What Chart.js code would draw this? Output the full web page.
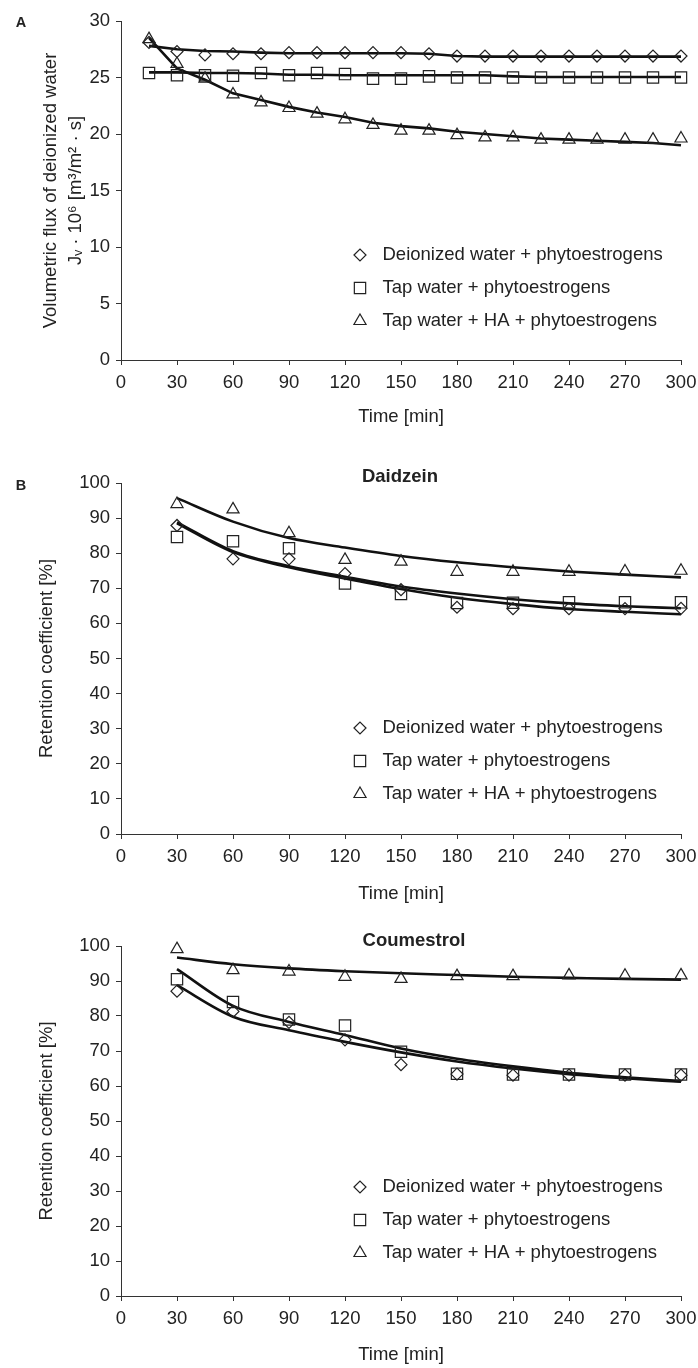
<!DOCTYPE html>
<html>
<head>
<meta charset="utf-8">
<script src="https://cdn.jsdelivr.net/npm/chart.js"></script>
<style>
  html, body { margin: 0; padding: 0; background: #fff; overflow: hidden; }
  body { width: 698px; height: 1368px; position: relative; }
  canvas { position: absolute; left: 0; }
</style>
</head>
<body>
<canvas id="chartA" width="698" height="432" style="top:0px"></canvas>
<canvas id="chartB" width="698" height="469" style="top:440px"></canvas>
<canvas id="chartC" width="698" height="460" style="top:910px"></canvas>
<script>
// --- panel A: volumetric flux, sampled every 15 min
const timeFlux = [15, 30, 45, 60, 75, 90, 105, 120, 135, 150, 165, 180, 195, 210, 225, 240, 255, 270, 285, 300];
const fluxDeionized = [28.1, 27.3, 27.0, 27.1, 27.1, 27.2, 27.2, 27.2, 27.2, 27.2, 27.1, 26.9, 26.9, 26.9, 26.9, 26.9, 26.9, 26.9, 26.9, 26.9];
const fluxTap       = [25.4, 25.2, 25.2, 25.15, 25.4, 25.2, 25.4, 25.3, 24.9, 24.9, 25.1, 25.0, 25.0, 25.0, 25.0, 25.0, 25.0, 25.0, 25.0, 25.0];
const fluxTapHA     = [28.4, 26.2, 24.9, 23.5, 22.8, 22.3, 21.8, 21.3, 20.8, 20.3, 20.3, 19.9, 19.7, 19.7, 19.5, 19.5, 19.5, 19.5, 19.5, 19.6];
const fitFluxDeionized = [27.8, 27.5, 27.35, 27.3, 27.2, 27.15, 27.15, 27.15, 27.15, 27.15, 27.1, 26.9, 26.85, 26.85, 26.85, 26.85, 26.85, 26.85, 26.85, 26.85];
const fitFluxTap       = [25.45, 25.45, 25.4, 25.4, 25.35, 25.25, 25.25, 25.2, 25.2, 25.2, 25.2, 25.2, 25.2, 25.1, 25.05, 25.05, 25.05, 25.05, 25.05, 25.05];
const fitFluxTapHA     = [28.5, 25.8, 24.8, 23.6, 23.0, 22.4, 21.9, 21.5, 21.0, 20.7, 20.5, 20.2, 20.0, 19.8, 19.6, 19.5, 19.4, 19.3, 19.2, 19.0];

// --- panels B: retention coefficient, sampled every 30 min
const timeRet = [30, 60, 90, 120, 150, 180, 210, 240, 270, 300];
const daidzeinDeionized = [87.9, 78.4, 78.4, 74.2, 69.6, 64.6, 64.2, 64.2, 64.2, 64.3];
const daidzeinTap       = [84.6, 83.4, 81.4, 71.4, 68.4, 65.8, 65.9, 66.0, 66.0, 66.0];
const daidzeinTapHA     = [94.0, 92.5, 85.7, 78.1, 77.6, 74.7, 74.7, 74.7, 74.8, 75.0];
const fitDaidzeinDeionized = [88.5, 80.3, 76.0, 72.8, 69.8, 67.3, 65.5, 64.1, 63.3, 62.6];
const fitDaidzeinTap       = [88.8, 80.6, 76.3, 73.3, 70.5, 68.5, 66.9, 65.7, 64.9, 64.3];
const fitDaidzeinTapHA     = [95.7, 89.0, 84.3, 81.6, 79.2, 77.4, 76.0, 74.8, 73.9, 73.1];

const coumestrolDeionized = [87.1, 81.3, 78.2, 73.2, 66.1, 63.4, 63.1, 63.1, 63.1, 63.1];
const coumestrolTap       = [90.5, 84.0, 79.0, 77.3, 69.8, 63.5, 63.3, 63.3, 63.3, 63.3];
const coumestrolTapHA     = [99.1, 93.1, 92.7, 91.2, 90.6, 91.4, 91.4, 91.6, 91.5, 91.6];
const fitCoumestrolDeionized = [88.8, 79.8, 75.9, 72.6, 69.6, 67.0, 65.0, 63.4, 62.2, 61.2];
const fitCoumestrolTap       = [93.4, 82.9, 78.3, 74.6, 70.7, 67.8, 65.6, 63.8, 62.5, 61.4];
const fitCoumestrolTapHA     = [96.7, 94.8, 93.6, 92.8, 92.2, 91.7, 91.2, 90.9, 90.6, 90.4];

const seriesLabels = ['Deionized water + phytoestrogens', 'Tap water + phytoestrogens', 'Tap water + HA + phytoestrogens'];
const markerStyles = ['rectRot', 'rect', 'triangle'];
const markerRadii = [6, 8, 7];

const FONT = '"Liberation Sans", Arial, Helvetica, sans-serif';
const INK = '#222';
Chart.defaults.font.family = FONT;
Chart.defaults.color = INK;

function pts(xs, ys) {
  return xs.map((x, i) => ({ x: x, y: ys[i] }));
}

// legend, panel letter and compound name, drawn over the plot
const decorPlugin = {
  id: 'decor',
  afterDraw(chart, args, o) {
    const ctx = chart.ctx;
    ctx.save();
    o.legendY.forEach((y, i) => {
      ctx.strokeStyle = INK;
      ctx.fillStyle = 'rgba(0,0,0,0)';
      ctx.lineWidth = 1.2;
      const ps = { pointStyle: markerStyles[i], radius: markerRadii[i], rotation: 0, borderWidth: 1.2 };
      if (Chart.helpers && Chart.helpers.drawPoint) {
        Chart.helpers.drawPoint(ctx, ps, 360, y);
      }
      ctx.fillStyle = INK;
      ctx.font = '18.5px ' + FONT;
      ctx.textAlign = 'left';
      ctx.textBaseline = 'middle';
      ctx.fillText(seriesLabels[i], 382.5, y);
    });
    if (o.letter) {
      ctx.font = 'bold 14.5px ' + FONT;
      ctx.textAlign = 'center';
      ctx.textBaseline = 'middle';
      ctx.fillStyle = INK;
      ctx.fillText(o.letter, 21, o.letterY);
    }
    if (o.name) {
      ctx.font = 'bold 18.5px ' + FONT;
      ctx.textAlign = 'center';
      ctx.textBaseline = 'middle';
      ctx.fillStyle = INK;
      ctx.fillText(o.name, o.nameX, o.nameY);
    }
    ctx.restore();
  }
};

function makeChart(c) {
  const canvas = document.getElementById(c.id);
  const H = canvas.height;
  const datasets = [];
  c.markers.forEach((ys, i) => {
    datasets.push({
      label: seriesLabels[i],
      data: pts(c.times, ys),
      showLine: false,
      pointStyle: markerStyles[i],
      pointRadius: markerRadii[i],
      pointBorderWidth: 1.2,
      pointBorderColor: INK,
      pointBackgroundColor: 'rgba(0,0,0,0)',
      clip: false
    });
  });
  c.fits.forEach((ys, i) => {
    datasets.push({
      label: 'fit ' + seriesLabels[i],
      data: pts(c.times, ys),
      showLine: true,
      borderColor: '#111',
      borderWidth: 2.6,
      pointRadius: 0,
      cubicInterpolationMode: c.smooth ? 'monotone' : 'default',
      tension: 0,
      clip: false
    });
  });

  return new Chart(canvas, {
    type: 'scatter',
    data: { datasets: datasets },
    plugins: [decorPlugin],
    options: {
      responsive: false,
      animation: false,
      layout: { padding: { top: c.plotTop, left: 0, right: 17, bottom: 0 } },
      plugins: {
        legend: { display: false },
        tooltip: { enabled: false },
        decor: c.decor
      },
      scales: {
        x: {
          type: 'linear',
          min: 0,
          max: 300,
          ticks: { stepSize: 30, color: INK, font: { size: 18.5 }, padding: 7, maxRotation: 0, autoSkip: false },
          grid: { display: true, drawOnChartArea: false, drawTicks: true, tickLength: 5, tickColor: '#333' },
          border: { display: true, color: '#333', width: 1 },
          title: { display: true, text: 'Time [min]', color: INK, font: { size: 18.5, lineHeight: 1.2 }, padding: { top: 0, bottom: 3.9 } },
          afterFit: function (s) {
            s.height = H - c.plotBottom;
            s.paddingLeft = 0;
            s.paddingRight = 0;
          }
        },
        y: {
          min: 0,
          max: c.yMax,
          ticks: { stepSize: c.yStep, color: INK, font: { size: 18.5 }, padding: 6 },
          grid: { display: true, drawOnChartArea: false, drawTicks: true, tickLength: 5, tickColor: '#333' },
          border: { display: true, color: '#333', width: 1 },
          title: { display: true, text: c.yTitle, color: INK, font: { size: 18.5, lineHeight: 1.351 }, padding: { top: c.yTitlePad, bottom: 0 } },
          afterFit: function (s) {
            s.width = 121;
            s.paddingTop = 0;
            s.paddingBottom = 0;
          }
        }
      }
    }
  });
}

makeChart({
  id: 'chartA', plotTop: 21, plotBottom: 360, yMax: 30, yStep: 5, smooth: false,
  yTitle: ['Volumetric flux of deionized water', 'J\u1D65 \u00B7 10\u2076 [m\u00B3/m\u00B2 \u00B7 s]'], yTitlePad: 38.5,
  times: timeFlux,
  markers: [fluxDeionized, fluxTap, fluxTapHA],
  fits: [fitFluxDeionized, fitFluxTap, fitFluxTapHA],
  decor: { legendY: [255, 288, 321], letter: 'A', letterY: 23 }
});

makeChart({
  id: 'chartB', plotTop: 43, plotBottom: 394, yMax: 100, yStep: 10, smooth: true,
  yTitle: 'Retention coefficient [%]', yTitlePad: 34.5,
  times: timeRet,
  markers: [daidzeinDeionized, daidzeinTap, daidzeinTapHA],
  fits: [fitDaidzeinDeionized, fitDaidzeinTap, fitDaidzeinTapHA],
  decor: { legendY: [288, 321, 354], letter: 'B', letterY: 46, name: 'Daidzein', nameX: 400, nameY: 37 }
});

makeChart({
  id: 'chartC', plotTop: 36, plotBottom: 386, yMax: 100, yStep: 10, smooth: true,
  yTitle: 'Retention coefficient [%]', yTitlePad: 34.5,
  times: timeRet,
  markers: [coumestrolDeionized, coumestrolTap, coumestrolTapHA],
  fits: [fitCoumestrolDeionized, fitCoumestrolTap, fitCoumestrolTapHA],
  decor: { legendY: [277, 310, 343], name: 'Coumestrol', nameX: 414, nameY: 31 }
});
</script>
</body>
</html>
